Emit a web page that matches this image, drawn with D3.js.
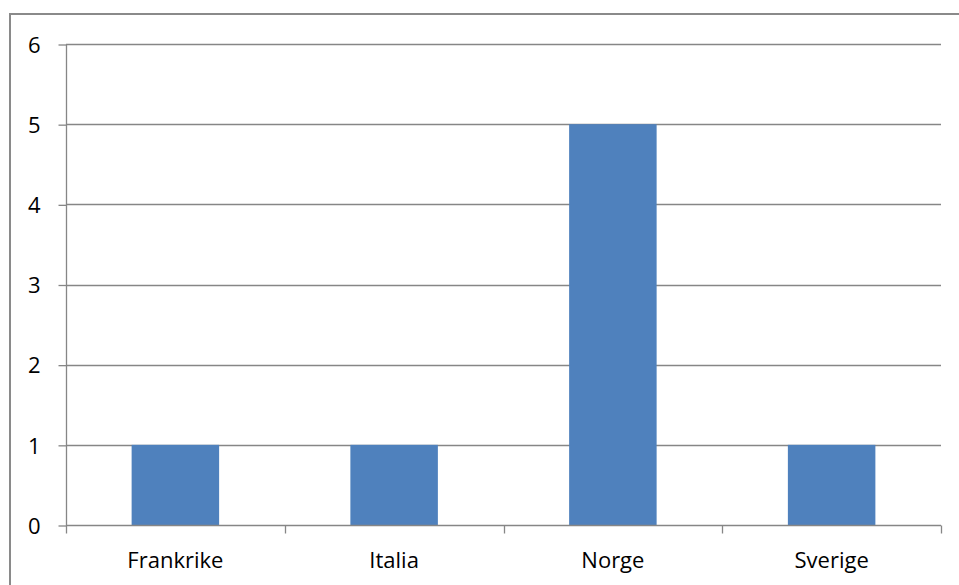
<!DOCTYPE html>
<html><head><meta charset="utf-8">
<script src="https://cdn.jsdelivr.net/npm/d3@7"></script>
<style>body{margin:0;background:#fff}svg{display:block}</style>
</head><body><svg id="c" width="959" height="585"></svg>
<script>
const categories = ["Frankrike", "Italia", "Norge", "Sverige"];
const values = [1, 1, 5, 1];
const yTicks = [0, 1, 2, 3, 4, 5, 6];

const svg = d3.select("#c");
const W = 959, H = 585;
const m = {left: 66, right: 941, top: 44, bottom: 525};
const font = "'Open Sans', sans-serif";
const grid = "#868686";

svg.append("rect").attr("x", 10).attr("y", 14).attr("width", W + 20).attr("height", H + 20)
  .attr("fill", "#fff").attr("stroke", "#8a8a8a").attr("stroke-width", 2);

const x = d3.scaleBand().domain(categories).range([m.left, m.right]).paddingInner(0.6).paddingOuter(0.3);
const y = d3.scaleLinear().domain([0, 6]).range([m.bottom, m.top]);

// gridlines
svg.append("g").selectAll("line").data(yTicks.filter(d => d > 0)).join("line")
  .attr("x1", m.left).attr("x2", m.right)
  .attr("y1", d => Math.round(y(d)) + 0.5).attr("y2", d => Math.round(y(d)) + 0.5)
  .attr("stroke", grid).attr("stroke-width", 1.3);

// bars
svg.append("g").selectAll("rect").data(categories).join("rect")
  .attr("x", d => x(d)).attr("width", x.bandwidth())
  .attr("y", (d, i) => y(values[i])).attr("height", (d, i) => y(0) - y(values[i]))
  .attr("fill", "#4F81BD");

// y axis
const yAxis = d3.axisLeft(y).tickValues(yTicks).tickSize(8).tickPadding(18).tickFormat(d3.format("d"));
const gy = svg.append("g").attr("transform", `translate(${m.left + 0.5},0.5)`).call(yAxis);
gy.select(".domain").attr("stroke", grid).attr("stroke-width", 1.3).attr("d", `M0,${m.top}V${m.bottom}`);
gy.selectAll(".tick line").attr("stroke", grid).attr("stroke-width", 1.3);
gy.selectAll(".tick text").attr("font-family", font).attr("font-size", 22).attr("fill", "#000").attr("dy", "0.35em");

// x axis with boundary ticks
const gx = svg.append("g").attr("transform", `translate(0,${m.bottom + 0.5})`);
gx.append("line").attr("x1", m.left).attr("x2", m.right).attr("stroke", grid).attr("stroke-width", 1.3);
const step = x.step();
const bounds = d3.range(categories.length + 1).map(i => m.left + i * step);
gx.selectAll("line.tk").data(bounds).join("line").attr("class", "tk")
  .attr("x1", d => Math.round(d) + 0.5).attr("x2", d => Math.round(d) + 0.5)
  .attr("y1", 0).attr("y2", 8).attr("stroke", grid).attr("stroke-width", 1.3);
gx.selectAll("text").data(categories).join("text")
  .attr("x", d => x(d) + x.bandwidth() / 2).attr("y", 42)
  .attr("text-anchor", "middle").attr("font-family", font).attr("font-size", 22).attr("fill", "#000")
  .text(d => d);
</script></body></html>
